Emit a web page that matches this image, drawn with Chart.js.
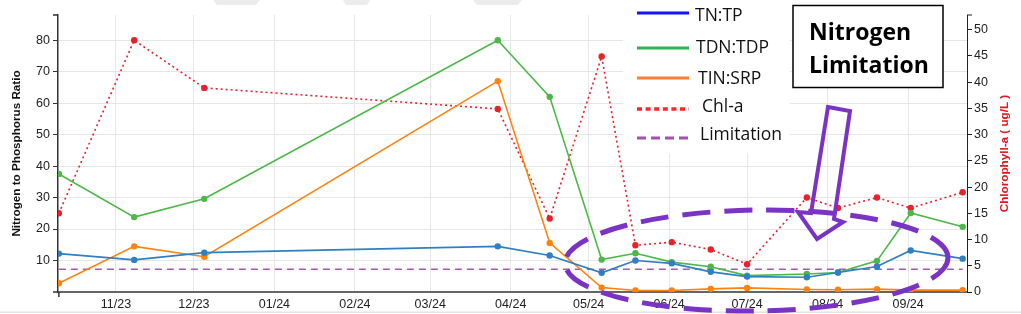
<!DOCTYPE html>
<html>
<head>
<meta charset="utf-8">
<script src="https://cdn.jsdelivr.net/npm/chart.js@4.4.1/dist/chart.umd.min.js"></script>
<style>
html, body { margin: 0; padding: 0; background: #fff; overflow: hidden; }
#wrap { position: relative; width: 1021px; height: 314px; }
</style>
</head>
<body>
<div id="wrap"><canvas id="np_chart" width="1021" height="314"></canvas></div>
<script>
// sampling dates and ratios
var sampleDates = ['2023-10-10', '2023-11-08', '2023-12-05', '2024-03-27', '2024-04-16', '2024-05-06', '2024-05-19',
    '2024-06-02', '2024-06-17', '2024-07-01', '2024-07-24', '2024-08-05', '2024-08-20', '2024-09-02', '2024-09-22'];
var tnTp   = [12.2, 10.2, 12.5, 14.5, 11.6, 6.1, 10.0, 9.1, 6.4, 4.9, 4.7, 6.2, 8.1, 13.2, 10.6];
var tdnTdp = [37.5, 23.8, 29.6, 80.0, 62.0, 10.3, 12.3, 9.5, 8.0, 5.2, 5.7, 6.2, 9.9, 25.1, 20.7];
var tinSrp = [2.8, 14.5, 11.2, 67.0, 15.6, 1.4, 0.5, 0.5, 1.0, 1.3, 0.8, 0.7, 0.9, 0.6, 0.6];
var chla   = [15.0, 48.0, 38.9, 34.9, 14.0, 44.9, 8.9, 9.5, 8.1, 5.3, 18.0, 16.0, 18.0, 16.0, 19.0];
var limitValue = 7.2;

var monthTicks = ['2023-11-01', '2023-12-01', '2024-01-01', '2024-02-01', '2024-03-01', '2024-04-01',
    '2024-05-01', '2024-06-01', '2024-07-01', '2024-08-01', '2024-09-01'];
var leftTicks = [10, 20, 30, 40, 50, 60, 70, 80];
var rightTicks = [0, 5, 10, 15, 20, 25, 30, 35, 40, 45, 50];
var legendLabels = ['TN:TP', 'TDN:TDP', 'TIN:SRP', 'Chl-a', 'Limitation'];
var noteLines = ['Nitrogen', 'Limitation'];

function toDay(s) {
    var p = s.split('-');
    return Date.UTC(+p[0], p[1] - 1, +p[2]) / 86400000;
}
function monthLabel(v) {
    var d = new Date(Math.round(v) * 86400000);
    var m = d.getUTCMonth() + 1;
    var y = d.getUTCFullYear() % 100;
    return (m < 10 ? '0' + m : m) + '/' + (y < 10 ? '0' + y : y);
}
function points(vals) {
    return vals.map(function(v, i) { return { x: toDay(sampleDates[i]), y: v }; });
}

var firstDay = toDay(sampleDates[0]);
var lastDay = toDay(sampleDates[sampleDates.length - 1]);
var purple = '#7a33c2';

var overlay = {
    id: 'overlay',
    afterDraw: function(chart) {
        var ctx = chart.ctx;
        var area = chart.chartArea;
        ctx.save();

        // faint shapes along the top edge and the line at the bottom
        ctx.fillStyle = '#ececec';
        [[213, 260, 217, 256], [343, 370, 346, 367], [473, 522, 477, 518]].forEach(function(t) {
            ctx.beginPath();
            ctx.moveTo(t[0], 0); ctx.lineTo(t[1], 0); ctx.lineTo(t[3], 5); ctx.lineTo(t[2], 5);
            ctx.closePath(); ctx.fill();
        });
        ctx.fillStyle = '#e2e2e2';
        ctx.fillRect(0, 311.5, 1021, 1.5);

        // axis end ticks
        ctx.strokeStyle = '#333';
        ctx.lineWidth = 1.5;
        ctx.beginPath();
        ctx.moveTo(area.left - 5, area.top); ctx.lineTo(area.left, area.top);
        ctx.moveTo(area.left - 5, area.bottom); ctx.lineTo(area.left, area.bottom);
        var fx = chart.scales.x.getPixelForValue(firstDay);
        ctx.moveTo(fx, area.bottom); ctx.lineTo(fx, area.bottom + 5);
        ctx.stroke();
        ctx.strokeStyle = '#222';
        ctx.lineWidth = 1;
        ctx.beginPath();
        ctx.moveTo(area.right, area.top); ctx.lineTo(area.right + 5, area.top);
        ctx.stroke();

        // right axis title, reading upwards
        ctx.save();
        ctx.translate(1005, (area.top + area.bottom) / 2);
        ctx.rotate(-Math.PI / 2);
        ctx.fillStyle = '#e3141c';
        ctx.font = 'bold 11.7px "Liberation Sans", Arial, sans-serif';
        ctx.textAlign = 'center';
        ctx.textBaseline = 'middle';
        ctx.fillText('Chlorophyll-a ( ug/L )', 0, 0);
        ctx.restore();

        // legend
        ctx.fillStyle = '#fff';
        ctx.fillRect(623, 0, 167, 153);
        var sw = [
            { y: 13, color: '#1414f5', dash: [], w: 3 },
            { y: 48, color: '#2db44a', dash: [], w: 3 },
            { y: 78, color: '#ff7f2a', dash: [], w: 3 },
            { y: 109, color: '#ff2424', dash: [5, 3.6], w: 3.5 },
            { y: 138, color: '#a550b0', dash: [9, 5], w: 3 }
        ];
        var tx = [[695, 16], [696, 48], [698, 79.5], [702, 107], [700, 135]];
        ctx.font = '17.5px "Open Sans", sans-serif';
        ctx.textBaseline = 'middle';
        ctx.textAlign = 'left';
        sw.forEach(function(s, i) {
            ctx.strokeStyle = s.color;
            ctx.lineWidth = s.w;
            ctx.setLineDash(s.dash);
            ctx.beginPath();
            ctx.moveTo(637, s.y); ctx.lineTo(689, s.y);
            ctx.stroke();
            ctx.setLineDash([]);
            ctx.fillStyle = '#111';
            ctx.fillText(legendLabels[i], tx[i][0], tx[i][1]);
        });

        // note box
        ctx.fillStyle = '#fff';
        ctx.fillRect(793, 5.5, 150, 82);
        ctx.strokeStyle = '#000';
        ctx.lineWidth = 1.5;
        ctx.strokeRect(793, 5.5, 150, 82);
        ctx.fillStyle = '#000';
        ctx.font = 'bold 23px "Open Sans", sans-serif';
        ctx.textBaseline = 'alphabetic';
        ctx.fillText(noteLines[0], 809, 40);
        ctx.fillText(noteLines[1], 809, 72.5);

        // dashed ellipse
        ctx.strokeStyle = purple;
        ctx.lineWidth = 5;
        ctx.setLineDash([28, 14]);
        ctx.beginPath();
        ctx.ellipse(756.5, 260.5, 191.5, 50.5, -0.015, 0, Math.PI * 2);
        ctx.stroke();
        ctx.setLineDash([]);

        // hollow arrow
        ctx.lineWidth = 4;
        ctx.lineJoin = 'miter';
        ctx.beginPath();
        ctx.moveTo(828, 107);
        ctx.lineTo(850, 111);
        ctx.lineTo(834, 219);
        ctx.lineTo(843, 222);
        ctx.lineTo(817, 239);
        ctx.lineTo(798, 212);
        ctx.lineTo(811, 213);
        ctx.closePath();
        ctx.stroke();

        ctx.restore();
    }
};

Chart.defaults.font.family = '"Liberation Sans", Arial, sans-serif';

var ctx = document.getElementById('np_chart');
var chart = new Chart(ctx, {
    type: 'line',
    data: {
        datasets: [
            { label: 'TN:TP', data: points(tnTp), yAxisID: 'y',
              borderColor: '#2f7fc1', backgroundColor: '#2f7fc1', borderWidth: 1.6, pointRadius: 3.2, pointBorderWidth: 0 },
            { label: 'TDN:TDP', data: points(tdnTdp), yAxisID: 'y',
              borderColor: '#4cb848', backgroundColor: '#4cb848', borderWidth: 1.6, pointRadius: 3.2, pointBorderWidth: 0 },
            { label: 'TIN:SRP', data: points(tinSrp), yAxisID: 'y',
              borderColor: '#ff820e', backgroundColor: '#ff820e', borderWidth: 1.6, pointRadius: 3.2, pointBorderWidth: 0 },
            { label: 'Chl-a', data: points(chla), yAxisID: 'y2',
              borderColor: '#e8222a', backgroundColor: '#e8222a', borderWidth: 1.6, borderDash: [2, 3],
              pointRadius: 3.2, pointBorderWidth: 0 },
            { label: 'Limitation', data: [{ x: firstDay, y: limitValue }, { x: lastDay, y: limitValue }], yAxisID: 'y',
              borderColor: '#a35bb5', borderWidth: 1.5, borderDash: [7, 5], pointRadius: 0 }
        ]
    },
    options: {
        responsive: false,
        animation: false,
        devicePixelRatio: 1,
        layout: { padding: { top: 15, left: 0, right: 0, bottom: 0 } },
        plugins: { legend: { display: false }, tooltip: { enabled: false } },
        scales: {
            x: {
                type: 'linear',
                position: 'bottom',
                min: firstDay - 0.33,
                max: lastDay + 1.67,
                afterBuildTicks: function(s) { s.ticks = monthTicks.map(function(m) { return { value: toDay(m) }; }); },
                afterFit: function(s) { s.height = 22; },
                ticks: { callback: monthLabel, color: '#222', font: { size: 12.5 }, padding: 5, maxRotation: 0, autoSkip: false },
                grid: { color: '#e6e6e6', drawTicks: false },
                border: { color: '#666', width: 2 }
            },
            y: {
                position: 'left',
                min: 0,
                max: 88,
                afterBuildTicks: function(s) { s.ticks = leftTicks.map(function(v) { return { value: v }; }); },
                afterFit: function(s) { s.width = 58; },
                ticks: { color: '#222', font: { size: 12.5 }, padding: 3 },
                grid: { color: '#e6e6e6', tickColor: '#333', tickLength: 5 },
                border: { color: '#333', width: 1.5 },
                title: { display: true, text: 'Nitrogen to Phosphorus Ratio', color: '#111',
                         font: { size: 11.7, weight: 'bold' }, padding: { top: 10, bottom: 0 } }
            },
            y2: {
                position: 'right',
                min: 0,
                max: 52.8,
                afterBuildTicks: function(s) { s.ticks = rightTicks.map(function(v) { return { value: v }; }); },
                afterFit: function(s) { s.width = 54; },
                ticks: { color: '#222', font: { size: 12.5 }, padding: 2 },
                grid: { drawOnChartArea: false, tickColor: '#222', tickLength: 5 },
                border: { color: '#222', width: 1 }
            }
        }
    },
    plugins: [overlay]
});
</script>
</body>
</html>
